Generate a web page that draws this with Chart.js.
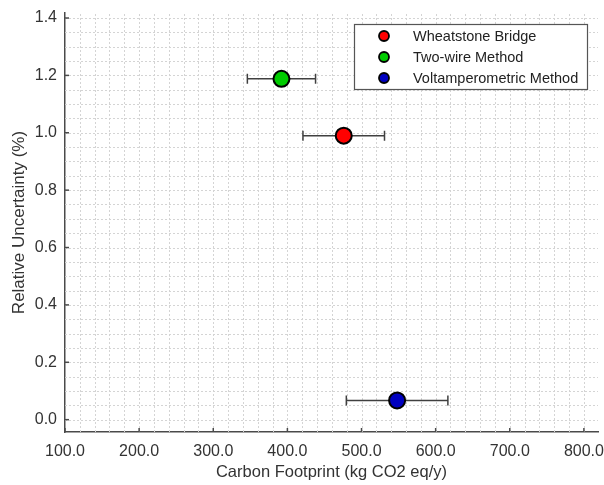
<!DOCTYPE html>
<html><head><meta charset="utf-8">
<script src="https://cdn.jsdelivr.net/npm/chart.js@4.4.0/dist/chart.umd.min.js"></script>
<style>html,body{margin:0;padding:0;background:#fff;}</style>
</head><body>
<canvas id="c" width="604" height="485"></canvas>
<script>
// ---- data ----
const methods = ['Wheatstone Bridge', 'Two-wire Method', 'Voltamperometric Method'];
const carbonFootprint = [476, 392, 548];
const carbonError = [55, 46, 68.5];
const relUncertainty = [0.990, 1.188, 0.067];
const colors = ['#ff0000', '#00cc00', '#0000c0'];
const xTicks = [100, 200, 300, 400, 500, 600, 700, 800];
const yTicks = [0.0, 0.2, 0.4, 0.6, 0.8, 1.0, 1.2, 1.4];
const xMinorStep = 20;
const yMinorStep = 0.05;
const xTitle = 'Carbon Footprint (kg CO2 eq/y)';
const yTitle = 'Relative Uncertainty (%)';

const FONT = '"Liberation Sans", Arial, Helvetica, sans-serif';
const AXIS_COLOR = '#4a4a4a';
const TEXT_COLOR = '#333333';

const datasets = methods.map((m, i) => ({
  label: m,
  data: [{x: carbonFootprint[i], y: relUncertainty[i], xerr: carbonError[i]}],
  backgroundColor: colors[i],
  borderColor: '#000',
  borderWidth: 2,
  pointRadius: 8,
  pointHoverRadius: 8
}));

const gridPlugin = {
  id: 'minorGrid',
  beforeDatasetsDraw(chart) {
    const {ctx, chartArea: a, scales: {x, y}} = chart;
    ctx.save();
    ctx.beginPath(); ctx.rect(a.left, a.top, a.right - a.left, a.bottom - a.top); ctx.clip();
    ctx.strokeStyle = '#d4d4d4';
    ctx.lineWidth = 1;
    ctx.setLineDash([2, 2]);
    for (let v = xTicks[0] + xMinorStep; v < x.max; v += xMinorStep) {
      const px = Math.round(x.getPixelForValue(v)) + 0.5;
      ctx.beginPath(); ctx.moveTo(px, a.bottom); ctx.lineTo(px, a.top); ctx.stroke();
    }
    for (let k = -1; yTicks[0] + k * yMinorStep > y.min; k--) {
      const py = Math.round(y.getPixelForValue(yTicks[0] + k * yMinorStep)) + 0.5;
      ctx.beginPath(); ctx.moveTo(a.left, py); ctx.lineTo(a.right, py); ctx.stroke();
    }
    for (let k = 0; yTicks[0] + k * yMinorStep < y.max; k++) {
      const py = Math.round(y.getPixelForValue(yTicks[0] + k * yMinorStep)) + 0.5;
      ctx.beginPath(); ctx.moveTo(a.left, py); ctx.lineTo(a.right, py); ctx.stroke();
    }
    ctx.restore();

    // inward tick marks
    ctx.save();
    ctx.strokeStyle = AXIS_COLOR;
    ctx.lineWidth = 1.5;
    xTicks.forEach(v => {
      const px = x.getPixelForValue(v);
      ctx.beginPath(); ctx.moveTo(px, a.bottom); ctx.lineTo(px, a.bottom - 4); ctx.stroke();
    });
    yTicks.forEach(v => {
      const py = y.getPixelForValue(v);
      ctx.beginPath(); ctx.moveTo(a.left, py); ctx.lineTo(a.left + 4, py); ctx.stroke();
    });
    ctx.restore();

    // error bars
    ctx.save();
    ctx.strokeStyle = '#404040';
    ctx.lineWidth = 1.5;
    chart.data.datasets.forEach(ds => {
      ds.data.forEach(p => {
        const x0 = x.getPixelForValue(p.x - p.xerr);
        const x1 = x.getPixelForValue(p.x + p.xerr);
        const py = y.getPixelForValue(p.y);
        ctx.beginPath();
        ctx.moveTo(x0, py); ctx.lineTo(x1, py);
        ctx.moveTo(x0, py - 5); ctx.lineTo(x0, py + 5);
        ctx.moveTo(x1, py - 5); ctx.lineTo(x1, py + 5);
        ctx.stroke();
      });
    });
    ctx.restore();
  }
};

const legendPlugin = {
  id: 'boxLegend',
  afterDatasetsDraw(chart) {
    const {ctx, chartArea: a} = chart;
    const w = 233, h = 65;
    const bx = a.right - 11 - w, by = a.top + 11;
    ctx.save();
    ctx.fillStyle = '#fff';
    ctx.fillRect(bx, by, w, h);
    ctx.strokeStyle = '#555';
    ctx.lineWidth = 1.2;
    ctx.strokeRect(bx + 0.5, by + 0.5, w, h);
    ctx.font = '14.5px ' + FONT;
    ctx.textBaseline = 'middle';
    ctx.textAlign = 'left';
    chart.data.datasets.forEach((ds, i) => {
      const cy = by + 12 + i * 21;
      ctx.beginPath();
      ctx.arc(bx + 30, cy, 5, 0, Math.PI * 2);
      ctx.fillStyle = ds.backgroundColor;
      ctx.fill();
      ctx.lineWidth = 1.8;
      ctx.strokeStyle = '#000';
      ctx.stroke();
      ctx.fillStyle = '#222';
      ctx.fillText(ds.label, bx + 59, cy + 1);
    });
    ctx.restore();
  }
};

new Chart(document.getElementById('c'), {
  type: 'scatter',
  data: {datasets},
  options: {
    responsive: false,
    animation: false,
    devicePixelRatio: 1,
    layout: {autoPadding: false, padding: {top: 13, right: 6, left: 0, bottom: 0}},
    plugins: {legend: {display: false}, tooltip: {enabled: false}},
    scales: {
      x: {
        type: 'linear',
        min: 100, max: 819,
        afterBuildTicks: s => { s.ticks = xTicks.map(v => ({value: v})); },
        afterFit: s => { s.height = 53; s.paddingLeft = 0; s.paddingRight = 0; },
        grid: {display: false, drawTicks: false},
        border: {display: true, color: AXIS_COLOR, width: 1.5},
        ticks: {
          padding: 10,
          color: TEXT_COLOR,
          font: {family: FONT, size: 16},
          maxRotation: 0,
          callback: v => Number(v).toFixed(1)
        },
        title: {display: true, text: xTitle, color: TEXT_COLOR, font: {family: FONT, size: 16.5}, padding: {top: 0, bottom: 3}}
      },
      y: {
        type: 'linear',
        min: -0.043, max: 1.4175,
        afterBuildTicks: s => { s.ticks = yTicks.map(v => ({value: v})); },
        afterFit: s => { s.width = 65; s.paddingTop = 0; s.paddingBottom = 0; },
        grid: {display: false, drawTicks: false},
        border: {display: true, color: AXIS_COLOR, width: 1.5},
        ticks: {
          padding: 8,
          color: TEXT_COLOR,
          font: {family: FONT, size: 16},
          callback: v => Number(v).toFixed(1)
        },
        title: {display: true, text: yTitle, color: TEXT_COLOR, font: {family: FONT, size: 17}, padding: {top: 9, bottom: 0}}
      }
    }
  },
  plugins: [gridPlugin, legendPlugin]
});
</script>
</body></html>
